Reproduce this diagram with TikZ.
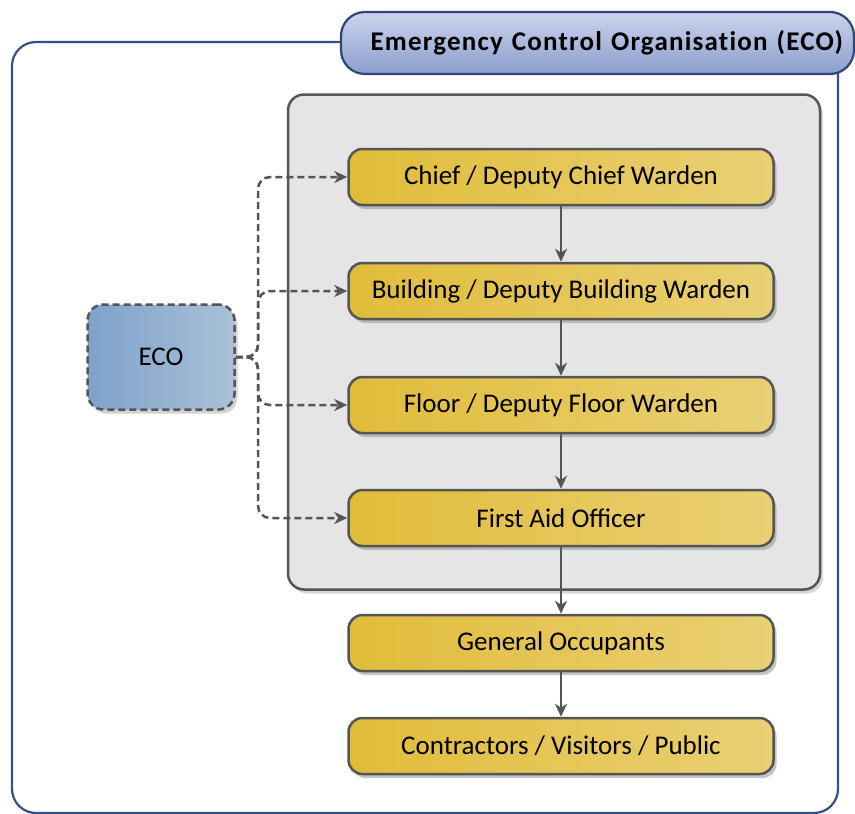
\documentclass[tikz,border=0pt]{standalone}
\usepackage{fontspec}
\setmainfont{Carlito}
\usetikzlibrary{shadows,arrows.meta}
\definecolor{framecol}{HTML}{34508A}
\definecolor{tabline}{HTML}{2E4677}
\definecolor{tabtop}{HTML}{CAD4EC}
\definecolor{tabbottom}{HTML}{8B9ECD}
\definecolor{boxline}{HTML}{555555}
\definecolor{wardenleft}{HTML}{E1BC3A}
\definecolor{wardenright}{HTML}{E9D074}
\definecolor{panelfill}{HTML}{E5E5E5}
\definecolor{ecoleft}{HTML}{7FA2CB}
\definecolor{ecoright}{HTML}{AAC0D8}
\tikzset{
  boxfont/.style={font=\fontsize{27}{31}\selectfont},
  warden/.style={draw=boxline, line width=2.5pt, rounded corners=14pt,
    shading angle=60, left color=wardenleft, right color=wardenright,
    minimum width=425pt, minimum height=56pt, boxfont,
    drop shadow={shadow xshift=3pt, shadow yshift=-4pt, fill=black!45}},
  panel/.style={draw=boxline, line width=2.5pt, rounded corners=16pt,
    fill=panelfill, minimum width=532pt, minimum height=495pt,
    drop shadow={shadow xshift=3pt, shadow yshift=-4pt, fill=black!30}},
  tab/.style={draw=tabline, line width=2.2pt, rounded corners=24pt,
    top color=tabtop, bottom color=tabbottom,
    minimum width=513pt, minimum height=62pt, inner xsep=11pt,
    text width=491pt, align=right,
    font=\bfseries\fontsize{27}{31}\selectfont
      \addfontfeature{LetterSpace=4.5,Ligatures=NoCommon}},
  ecobox/.style={draw=boxline, line width=2.5pt, dash pattern=on 7pt off 4pt,
    rounded corners=16pt, left color=ecoleft, right color=ecoright,
    minimum width=147pt, minimum height=105pt, boxfont,
    drop shadow={shadow xshift=3pt, shadow yshift=-4pt, fill=black!35}},
  flow/.style={->, draw=boxline, line width=2.5pt},
  ecolink/.style={->, draw=boxline, line width=2.5pt, dash pattern=on 7pt off 4pt,
    rounded corners=12pt},
}
\begin{document}
\begin{tikzpicture}[x=1pt,y=-1pt,>={Stealth[length=13pt,width=12pt,inset=4pt]}]
    \useasboundingbox (0,0) rectangle (855,814);

    % outer frame
    \draw[framecol, line width=2.2pt, rounded corners=24pt]
        (400,42) -| (12,813) -| (838,60);

    % grey group
    \node[panel] (group) at (554,342) {};

    % title tab
    \node[tab] (title) at (597.5,43) {Emergency Control Organisation (ECO)};

    % wardens
    \node[warden] (chief) at (561,177) {Chief / Deputy Chief Warden};
    \node[warden] (building) at (561,291) {Building / Deputy Building Warden};
    \node[warden] (floor) at (561,405) {Floor / Deputy Floor Warden};
    \node[warden] (firstaid) at (561,518) {First Aid Officer};
    \node[warden] (general) at (561,643) {General Occupants};
    \node[warden] (public) at (561,746) {Contractors / Visitors / Public};

    % eco
    \node[ecobox] (eco) at (161,357) {ECO};
    \coordinate (trunk) at (258,357);

    \foreach \n in {chief,building,floor,firstaid}
        \draw[ecolink] (eco.east) -- (trunk) |- (\n.west);

    \draw[flow] (chief) -- (building);
    \draw[flow] (building) -- (floor);
    \draw[flow] (floor) -- (firstaid);
    \draw[flow] (firstaid) -- (general);
    \draw[flow] (general) -- (public);

\end{tikzpicture}
\end{document}
